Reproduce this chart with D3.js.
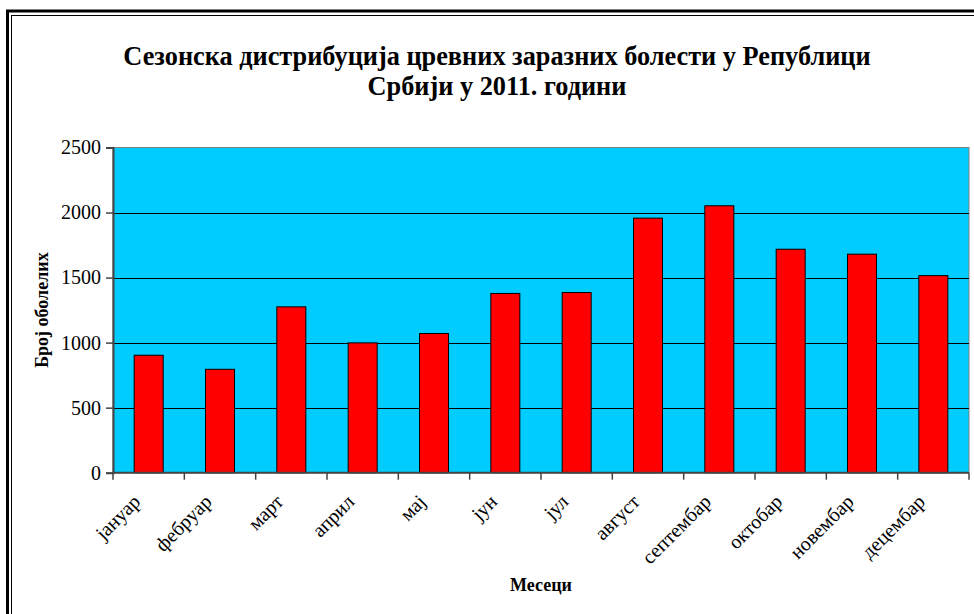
<!DOCTYPE html>
<html>
<head>
<meta charset="utf-8">
<script src="https://cdn.jsdelivr.net/npm/d3@7"></script>
<style>
  html, body { margin: 0; padding: 0; background: #fff; }
  svg { display: block; }
  svg text { font-family: "Liberation Serif", "Times New Roman", serif; fill: #000; }
</style>
</head>
<body>
<svg id="chart" width="974" height="614"></svg>
<script>
// Monthly counts of intestinal infectious disease cases, Serbia 2011
const months = ["јануар", "фебруар", "март", "април", "мај", "јун",
                "јул", "август", "септембар", "октобар", "новембар", "децембар"];
const cases = [903, 795, 1275, 998, 1070, 1378, 1385, 1957, 2052, 1718, 1680, 1515];
const yTicks = [0, 500, 1000, 1500, 2000, 2500];
const titleLines = ["Сезонска дистрибуција цревних заразних болести у Републици",
                    "Србији у 2011. години"];
const yTitle = "Број оболелих";
const xTitle = "Месеци";

const SERIF = "'Liberation Serif', 'Times New Roman', serif";
const svg = d3.select("#chart");
const W = 974, H = 614;
const plot = { left: 113, right: 969, top: 147.5, bottom: 472.7 };

// outer double frame (runs off the right and bottom edges)
svg.append("rect").attr("x", 7.5).attr("y", 11).attr("width", W + 20).attr("height", H + 20)
  .attr("fill", "none").attr("stroke", "#000").attr("stroke-width", 3);
svg.append("rect").attr("x", 11.5).attr("y", 15.5).attr("width", W + 20).attr("height", H + 20)
  .attr("fill", "none").attr("stroke", "#000").attr("stroke-width", 1);

// title
svg.append("text")
  .attr("x", 497).attr("y", 65)
  .attr("text-anchor", "middle")
  .style("font-family", SERIF)
  .style("font-size", "26.3px").style("font-weight", "bold")
  .selectAll("tspan").data(titleLines).join("tspan")
  .attr("x", 497).attr("dy", (d, i) => i === 0 ? 0 : 30)
  .text(d => d);

const xOuter = d3.scaleBand().domain(months).range([plot.left, plot.right]);
const y = d3.scaleLinear().domain([0, 2500]).range([plot.bottom, plot.top]);

// plot background
svg.append("rect")
  .attr("x", plot.left).attr("y", plot.top)
  .attr("width", plot.right - plot.left).attr("height", plot.bottom - plot.top)
  .attr("fill", "#00CCFF").attr("stroke", "#808080").attr("stroke-width", 1);

// gridlines
svg.append("g").selectAll("line").data(yTicks.filter(d => d > 0 && d < 2500)).join("line")
  .attr("x1", plot.left).attr("x2", plot.right)
  .attr("y1", d => Math.round(y(d)) + 0.5).attr("y2", d => Math.round(y(d)) + 0.5)
  .attr("stroke", "#000").attr("stroke-width", 1);

// bars, centred in each month band
svg.append("g").selectAll("rect").data(cases).join("rect")
  .attr("x", (d, i) => xOuter(months[i]) + xOuter.bandwidth() / 2 - 14.5)
  .attr("width", 29)
  .attr("y", d => y(d))
  .attr("height", d => plot.bottom - y(d))
  .attr("fill", "#FF0000").attr("stroke", "#000").attr("stroke-width", 1);

// y axis
const yAxis = d3.axisLeft(y).tickValues(yTicks).tickFormat(d3.format("d")).tickSize(7).tickPadding(5);
const gy = svg.append("g").attr("transform", `translate(${plot.left},0)`).call(yAxis)
  .attr("font-family", SERIF).attr("font-size", 20);
gy.select(".domain").attr("stroke", "#444").attr("stroke-width", 2);
gy.selectAll(".tick line").attr("stroke", "#444").attr("stroke-width", 1.5);
gy.selectAll(".tick text").style("font-family", SERIF).style("font-size", "20px").attr("fill", "#000");

// x axis: ticks on category boundaries
const boundaries = months.map(m => xOuter(m)).concat([plot.right]);
const gx = svg.append("g");
gx.append("line").attr("x1", plot.left - 1).attr("x2", plot.right)
  .attr("y1", plot.bottom).attr("y2", plot.bottom)
  .attr("stroke", "#444").attr("stroke-width", 2);
gx.selectAll("line.tk").data(boundaries).join("line").attr("class", "tk")
  .attr("x1", d => d).attr("x2", d => d)
  .attr("y1", plot.bottom).attr("y2", plot.bottom + 7)
  .attr("stroke", "#444").attr("stroke-width", 1.5);
gx.selectAll("text").data(months).join("text")
  .attr("transform", m => `translate(${xOuter(m) + xOuter.bandwidth() / 2 - 7},503) rotate(-45)`)
  .attr("text-anchor", "end")
  .style("font-family", SERIF)
  .style("font-size", "20px")
  .text(d => d);

// axis titles
svg.append("text")
  .attr("transform", `translate(48,${(plot.top + plot.bottom) / 2}) rotate(-90)`)
  .attr("text-anchor", "middle")
  .style("font-family", SERIF)
  .style("font-size", "18px").style("font-weight", "bold")
  .text(yTitle);
svg.append("text")
  .attr("x", (plot.left + plot.right) / 2).attr("y", 591)
  .attr("text-anchor", "middle")
  .style("font-family", SERIF)
  .style("font-size", "18px").style("font-weight", "bold")
  .text(xTitle);
</script>
</body>
</html>
